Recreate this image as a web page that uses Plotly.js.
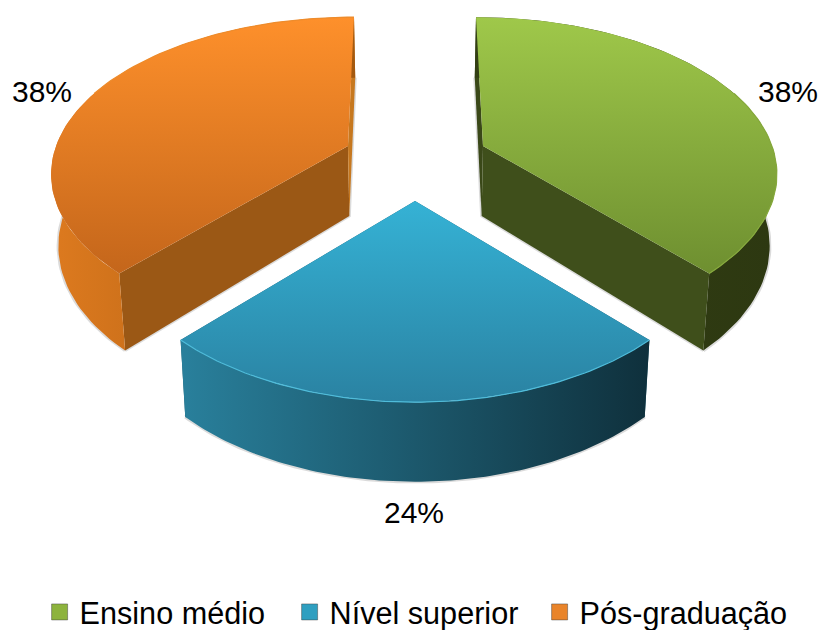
<!DOCTYPE html>
<html><head><meta charset="utf-8">
<script src="https://cdn.plot.ly/plotly-3.0.1.min.js"></script>
<style>html,body{margin:0;padding:0;background:#fff}</style></head>
<body><div id="chart" style="width:825px;height:630px"></div>
<script>
const categories = ["Ensino médio", "Nível superior", "Pós-graduação"];
const values = [38, 24, 38];

const FONT = '"Liberation Sans", Arial, sans-serif';
const VX = 415, SHRINK = 0.98;
const styles = [
  {ax:476, nudge:7, ay:146, f:296, g:152, k:0.18,
   top:['#9fc84a','#6e8f30'], wall:['#333f14','#2d3811'], wallDir:'horizontal', faceA:'#3a4818', faceB:'#3f4f1b', rim:'#86a93c', legend:'#8db33d', lab:[788,91]},
  {ax:415, nudge:0, ay:201, f:300, g:167, k:0.17,
   top:['#35b2d5','#2a82a2'], wall:['#29809c','#0f303c'], wallDir:'horizontal', faceA:'#1b5a70', faceB:'#1b5a70', rim:'#4fbcda', legend:'#2f9fc0', lab:[414,512]},
  {ax:354, nudge:-6, ay:146, f:298, g:152, k:0.18,
   top:['#fe902b','#c4661b'], wall:['#dd7a1f','#a4590f'], wallDir:'horizontal', faceA:'#9b5815', faceB:'#c6781f', rim:'#ee8c2c', legend:'#e9842a', lab:[42,91]}
];

function rim(s, deg) {
  const t = deg * Math.PI / 180, X = Math.sin(t), Y = -Math.cos(t), w = 1 - s.k * Y;
  return {x: s.ax + s.f * X / w, y: s.ay + s.g * Y / w, Y: Y};
}
function drop(p) {
  return {x: VX + (p.x - VX) * SHRINK, y: p.y + 70 + 9.5 * p.Y};
}
function path(pts) { return {x: pts.map(p => p.x), y: pts.map(p => p.y)}; }

const traces = [];
function poly(pts, fill, grad) {
  const t = Object.assign(path(pts.concat([pts[0]])), {mode:'lines', line:{width:0}, fill:'toself', fillcolor:fill, hoverinfo:'skip', showlegend:false});
  if (grad) t.fillgradient = {type:grad.dir, colorscale:[[0,grad.c[0]],[1,grad.c[1]]]};
  traces.push(t);
}
function stroke(pts, color, width) {
  traces.push(Object.assign(path(pts), {mode:'lines', line:{color:color, width:width, shape:'linear'}, hoverinfo:'skip', showlegend:false}));
}

const total = values.reduce((a, b) => a + b, 0);
let start = 0;
const wedges = values.map((v, i) => {
  const from = start, to = start + v / total * 360; start = to;
  return {i, from, to};
});
// the front slice is painted last, as it sits nearest the viewer
[wedges[0], wedges[2], wedges[1]].forEach(w => {
  const s = styles[w.i], arc = [];
  for (let n = 0; n <= 90; n++) arc.push(rim(s, w.from + (w.to - w.from) * n / 90));
  const low = arc.map(drop);
  const apex = {x: s.ax + s.nudge, y: s.ay, Y: 0};
  const apexLow = drop(apex);
  // soft shadow round the underside
  stroke(low, 'rgba(0,0,0,0.14)', 3.5);
  stroke([low[0], apexLow, low[90]], 'rgba(0,0,0,0.14)', 3);
  // inner cut faces
  poly([arc[0], apex, apexLow, low[0]], s.faceA);
  poly([arc[90], apex, apexLow, low[90]], s.faceB);
  // outer wall
  poly(arc.concat(low.slice().reverse()), s.wall[0], {dir:s.wallDir, c:s.wall});
  // top face
  poly([apex].concat(arc), s.top[0], {dir:'vertical', c:[s.top[1], s.top[0]]});
  stroke(arc.slice(w.i === 1 ? 0 : 45), s.rim, 1.2);
});

categories.forEach((name, i) => {
  traces.push({x:[-100], y:[-100], mode:'markers', name:name, hoverinfo:'skip', showlegend:true,
    marker:{symbol:'square', size:16, color:styles[i].legend, line:{width:1, color:'rgba(60,60,60,0.45)'}}});
});

const layout = {
  width:825, height:630, margin:{l:0,r:0,t:0,b:0,autoexpand:false},
  paper_bgcolor:'#fff', plot_bgcolor:'#fff',
  xaxis:{range:[0,825], visible:false, fixedrange:true},
  yaxis:{range:[630,0], visible:false, fixedrange:true},
  showlegend:true,
  legend:{orientation:'h', x:0.048, y:0.0285, xanchor:'left', yanchor:'middle',
    font:{family:FONT, size:30.6, color:'#000'}, itemwidth:30, itemsizing:'trace', entrywidth:205, entrywidthmode:'pixels',
    traceorder:'normal', bgcolor:'rgba(0,0,0,0)', tracegroupgap:0},
  annotations: values.map((v, i) => ({x:styles[i].lab[0], y:styles[i].lab[1], xref:'x', yref:'y', text:v + '%', showarrow:false,
    xanchor:'center', yanchor:'middle', font:{family:FONT, size:30, color:'#000'}}))
};
Plotly.newPlot('chart', traces, layout, {displayModeBar:false, staticPlot:true});
</script></body></html>
